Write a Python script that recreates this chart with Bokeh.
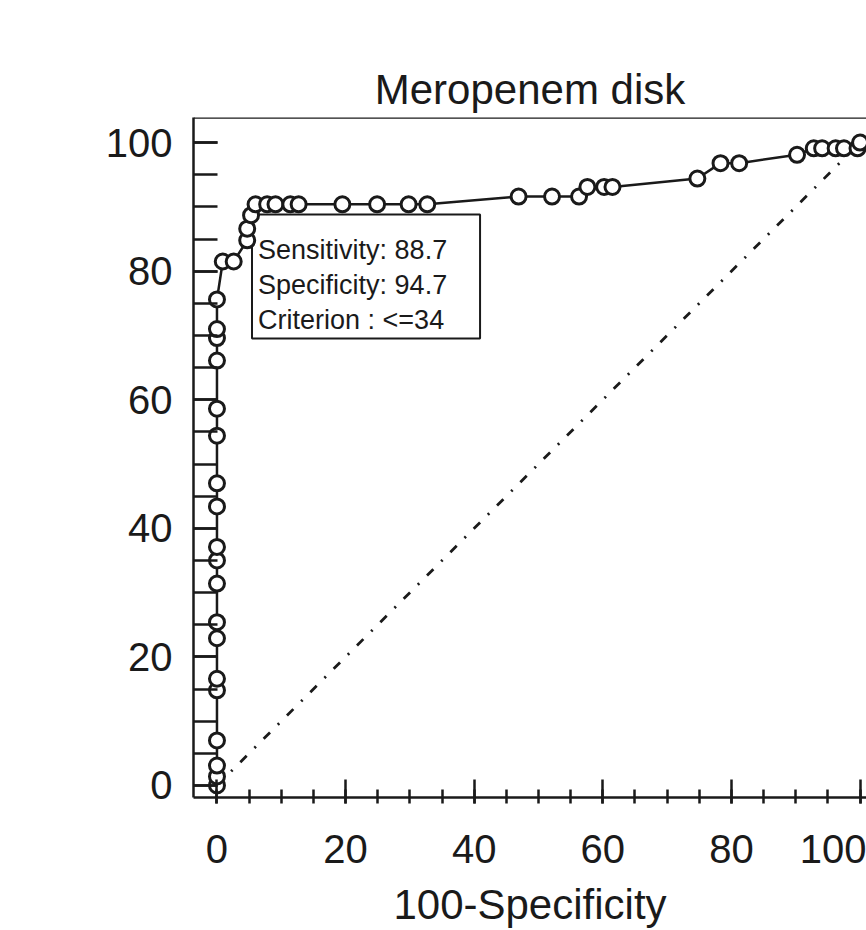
from bokeh.plotting import figure
from bokeh.models import Range1d, Span, BoxAnnotation, Label, FixedTicker
from bokeh.embed import file_html
from bokeh.resources import INLINE

# ROC curve points: x = 100-Specificity, y = Sensitivity
fpr = [0, 0, 0, 0, 0, 0, 0, 0, 0, 0, 0, 0, 0, 0, 0, 0, 0, 0, 0,
       0.9, 2.6, 4.7, 4.7, 5.3, 6.0, 7.8, 9.1, 11.4, 12.7, 19.5, 24.9, 29.8, 32.7,
       46.9, 52.1, 56.3, 57.6, 60.2, 61.5, 74.7, 78.3, 81.2, 90.2,
       92.8, 94.1, 96.2, 97.5, 99.6, 100]
tpr = [0, 1.4, 3.1, 7.0, 14.8, 16.6, 22.9, 25.4, 31.4, 35.0, 37.1, 43.4, 47.0, 54.4, 58.6, 66.1, 69.6, 71.0, 75.6,
       81.5, 81.5, 84.8, 86.6, 88.7, 90.4, 90.4, 90.4, 90.4, 90.4, 90.4, 90.4, 90.4, 90.4,
       91.6, 91.6, 91.6, 93.1, 93.1, 93.1, 94.4, 96.8, 96.8, 98.1,
       99.1, 99.1, 99.1, 99.1, 99.1, 100]

chance_x = [0, 100]
chance_y = [0, 100]

crit_sens = 88.7
crit_spec = 94.7
crit_label = ["Sensitivity: 88.7", "Specificity: 94.7", "Criterion : <=34"]

x_ticks = [0, 20, 40, 60, 80, 100]
y_ticks = [0, 20, 40, 60, 80, 100]
minor_ticks = list(range(0, 101, 5))

FONT = "Liberation Sans"
INK = "#1a1a1a"
PX_PER_UNIT = 6.43

p = figure(width=866, height=930, output_backend="svg", toolbar_location=None,
           x_range=Range1d(-3.65, 101.0), y_range=Range1d(-1.87, 103.9),
           min_border_left=193, min_border_right=0, min_border_top=117, min_border_bottom=133,
           title="Meropenem disk")
p.background_fill_color = "white"
p.border_fill_color = "white"
p.outline_line_color = None
p.grid.visible = False

p.title.text_font = FONT
p.title.text_font_size = "42px"
p.title.text_font_style = "normal"
p.title.text_color = INK
p.title.align = "center"
p.title.standoff = 10

for ax in (p.xaxis[0], p.yaxis[0]):
    ax.axis_line_width = 2.5
    ax.axis_line_color = INK
    ax.major_tick_line_width = 2.5
    ax.minor_tick_line_width = 2.5
    ax.major_tick_line_color = INK
    ax.minor_tick_line_color = INK
    ax.major_label_text_font = FONT
    ax.major_label_text_font_size = "40px"
    ax.major_label_text_color = INK

p.xaxis.ticker = FixedTicker(ticks=x_ticks, minor_ticks=minor_ticks)
p.yaxis.ticker = FixedTicker(ticks=y_ticks, minor_ticks=minor_ticks)
p.xaxis.major_tick_in = 18
p.xaxis.major_tick_out = 6
p.xaxis.minor_tick_in = 8
p.xaxis.minor_tick_out = 6
p.xaxis.major_label_standoff = 31
p.yaxis.major_tick_in = 24
p.yaxis.major_tick_out = 0
p.yaxis.minor_tick_in = 24
p.yaxis.minor_tick_out = 0
p.yaxis.major_label_standoff = 21

# x axis title
p.xaxis.axis_label = "100-Specificity"
p.xaxis.axis_label_text_font = FONT
p.xaxis.axis_label_text_font_size = "42px"
p.xaxis.axis_label_text_font_style = "normal"
p.xaxis.axis_label_text_color = INK
p.xaxis.axis_label_standoff = 15

# top frame line
p.add_layout(Span(location=p.y_range.end, dimension="width", line_color=INK, line_width=2.5))

# chance diagonal
p.line(chance_x, chance_y, line_color=INK, line_width=2.8, line_dash="9 11 2 11")

# criterion box (under the curve)
crit_x = 100 - crit_spec
box_w = 228 / PX_PER_UNIT
box_h = 124 / PX_PER_UNIT
p.add_layout(BoxAnnotation(left=crit_x + 0.15, right=crit_x + 0.15 + box_w,
                           top=crit_sens + 0.1, bottom=crit_sens + 0.1 - box_h,
                           fill_color="white", fill_alpha=1.0,
                           line_color=INK, line_alpha=1.0, line_width=2, level="underlay"))

# ROC curve
p.line(fpr, tpr, line_color=INK, line_width=2.5)
p.scatter(fpr, tpr, marker="circle", size=15, fill_color="white",
          line_color=INK, line_width=3)

for i, txt in enumerate(crit_label):
    p.add_layout(Label(x=crit_x, y=crit_sens, x_offset=7, y_offset=-(35 + 35 * i),
                       text=txt, text_font=FONT, text_font_size="27px",
                       text_color=INK, text_baseline="middle", text_align="left"))

open("out.html", "w").write(file_html(p, INLINE))
